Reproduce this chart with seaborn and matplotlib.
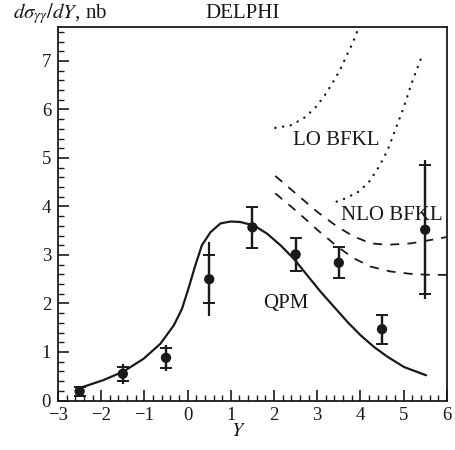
import numpy as np
import pandas as pd
import matplotlib
matplotlib.use("Agg")
import matplotlib.pyplot as plt
import seaborn as sns
from matplotlib.ticker import MultipleLocator

# ---- data ----
data_y = [-2.5, -1.5, -0.5, 0.5, 1.5, 2.5, 3.5, 4.5, 5.5]
data_val = [0.19, 0.55, 0.88, 2.50, 3.57, 3.01, 2.84, 1.47, 3.52]
stat_err = [0.09, 0.14, 0.20, 0.50, 0.42, 0.33, 0.32, 0.30, 1.33]
tot_err = [0.09, 0.20, 0.27, 0.76, 0.44, 0.36, 0.32, 0.30, 1.43]

qpm_x = [-2.49, -1.95, -1.48, -1.02, -0.63, -0.32, -0.13, 0.02, 0.18, 0.33, 0.53, 0.76,
         0.99, 1.22, 1.53, 1.84, 2.15, 2.46, 2.77, 3.08, 3.39, 3.70, 4.01, 4.32, 4.63,
         5.01, 5.52]
qpm_v = [0.26, 0.42, 0.60, 0.86, 1.17, 1.55, 1.89, 2.31, 2.79, 3.20, 3.47, 3.65,
         3.69, 3.68, 3.61, 3.44, 3.20, 2.92, 2.58, 2.24, 1.93, 1.62, 1.34, 1.10, 0.90,
         0.69, 0.52]

lo1_x = [2.03, 2.38, 2.69, 2.95, 3.16, 3.35, 3.52, 3.67, 3.82, 3.95]
lo1_v = [5.62, 5.67, 5.82, 6.03, 6.27, 6.54, 6.80, 7.09, 7.37, 7.66]
lo2_x = [3.45, 3.66, 3.97, 4.20, 4.43, 4.63, 4.82, 5.01, 5.17, 5.40]
lo2_v = [4.10, 4.17, 4.31, 4.51, 4.82, 5.16, 5.61, 6.06, 6.50, 7.05]

nlo1_x = [2.03, 2.54, 3.00, 3.47, 3.85, 4.24, 4.63, 5.17, 5.63, 6.00]
nlo1_v = [4.63, 4.24, 3.89, 3.58, 3.38, 3.24, 3.21, 3.24, 3.31, 3.37]
nlo2_x = [2.03, 2.54, 3.00, 3.47, 3.85, 4.24, 4.70, 5.17, 5.63, 6.00]
nlo2_v = [4.27, 3.89, 3.52, 3.17, 2.93, 2.76, 2.66, 2.61, 2.59, 2.59]

x_ticks = [-3, -2, -1, 0, 1, 2, 3, 4, 5, 6]
y_ticks = [0, 1, 2, 3, 4, 5, 6, 7]

sns.set_style("ticks")
plt.rcParams['font.family'] = ['Liberation Serif', 'DejaVu Serif']
plt.rcParams['mathtext.fontset'] = 'stix'

fig = plt.figure(figsize=(4.55, 4.5), dpi=100)
ax = fig.add_axes([0.1275, 0.11, 0.8545, 0.83])

def curve(xs, vs, **kw):
    df = pd.DataFrame({"x": xs, "v": vs})
    sns.lineplot(data=df, x="x", y="v", ax=ax, sort=False, estimator=None, **kw)

curve(qpm_x, qpm_v, color="#1a1a1a", linewidth=1.6)
curve(lo1_x, lo1_v, color="#1a1a1a", linewidth=1.7, linestyle=(0, (0.1, 3.2)), dash_capstyle="round")
curve(lo2_x, lo2_v, color="#1a1a1a", linewidth=1.7, linestyle=(0, (0.1, 3.2)), dash_capstyle="round")
curve(nlo1_x, nlo1_v, color="#1a1a1a", linewidth=1.3, linestyle=(0, (5, 4.5)))
curve(nlo2_x, nlo2_v, color="#1a1a1a", linewidth=1.3, linestyle=(0, (5, 4.5)))

ax.errorbar(data_y, data_val, yerr=tot_err, fmt="none", ecolor="#1a1a1a", elinewidth=1.6, capsize=0)
ax.errorbar(data_y, data_val, yerr=stat_err, fmt="none", ecolor="#1a1a1a", elinewidth=1.6,
            capsize=4, capthick=1.4)
sns.scatterplot(x=data_y, y=data_val, ax=ax, color="#1a1a1a", s=55, edgecolor="none", zorder=5)

ax.set_xlim(-3, 6)
ax.set_ylim(0, 7.7)
ax.set_xticks(x_ticks)
ax.set_xticklabels(["\u2212" + str(-t) if t < 0 else str(t) for t in x_ticks])
ax.set_yticks(y_ticks)
ax.xaxis.set_minor_locator(MultipleLocator(0.2))
ax.yaxis.set_minor_locator(MultipleLocator(0.2))
ax.tick_params(which="major", direction="in", length=8, width=1.2, labelsize=13.5, color="#1a1a1a",
               labelcolor="#1a1a1a", pad=5)
ax.tick_params(which="minor", direction="in", length=4.5, width=1.0, color="#1a1a1a")
ax.tick_params(top=False, right=False, which="both")
for s in ax.spines.values():
    s.set_linewidth(1.3)
    s.set_color("#1a1a1a")
ax.set_xlabel("")
ax.set_ylabel("")

fig.text(238 / 455, 1 - 432 / 450, "$Y$", ha="center", va="center", fontsize=14.5, color="#1a1a1a")
fig.text(13 / 455, 1 - 14 / 450, r"$d\sigma_{\gamma\gamma}/dY$, nb", ha="left", va="center",
         fontsize=15, color="#1a1a1a")
fig.text(243 / 455, 1 - 14 / 450, "DELPHI", ha="center", va="center", fontsize=15, color="#1a1a1a")

ax.text(3.43, 5.37, "LO BFKL", ha="center", va="center", fontsize=15, color="#1a1a1a")
ax.text(4.72, 3.82, "NLO BFKL", ha="center", va="center", fontsize=15, color="#1a1a1a")
ax.text(2.27, 1.99, "QPM", ha="center", va="center", fontsize=15, color="#1a1a1a")

fig.savefig("out.png", dpi=100)
